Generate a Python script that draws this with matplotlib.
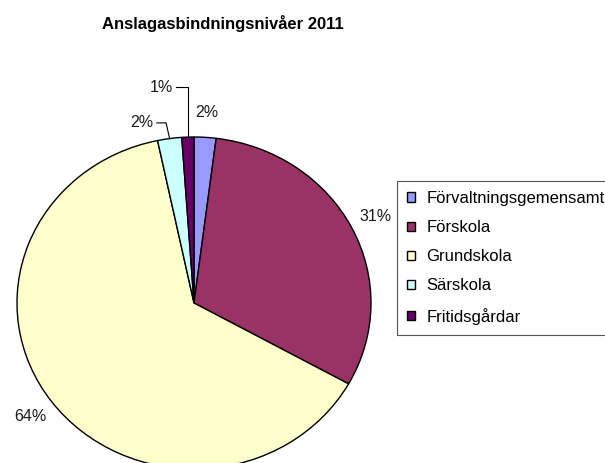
import matplotlib.pyplot as plt
import numpy as np

plt.rcParams['font.family'] = ['Liberation Sans', 'DejaVu Sans']

# Andel per verksamhet (%)
categories = ["Förvaltningsgemensamt", "Förskola", "Grundskola", "Särskola", "Fritidsgårdar"]
shares = [2.0, 31.1, 63.6, 2.2, 1.1]
colors = ["#9999FF", "#993366", "#FFFFCC", "#CCFFFF", "#660066"]

W, H = 605, 463
fig = plt.figure(figsize=(W / 100, H / 100), dpi=100)

# pajen är lite ihoptryckt på höjden i originalet
cx, cy, rx, ry = 194, 303, 177, 166
ax = fig.add_axes([(cx - rx) / W, (H - cy - ry) / H, 2 * rx / W, 2 * ry / H])

wedges, texts, autotexts = ax.pie(
    shares, colors=colors, startangle=90, counterclock=False,
    autopct='%.0f%%', pctdistance=1.15,
    wedgeprops=dict(edgecolor='black', linewidth=1.0),
    textprops=dict(fontsize=11.5, color='#1a1a1a'))
ax.set_aspect('auto')
ax.set_xlim(-1, 1)
ax.set_ylim(-1, 1)
ax.axis('off')

# små andelar får etiketter med hänvisningslinjer
leader = {3: (-0.21, 1.085, -0.02), 4: (-0.10, 1.30, 0.0)}
for i, (lx, ly, dx) in leader.items():
    w = wedges[i]
    mid = np.deg2rad((w.theta1 + w.theta2) / 2)
    ex, ey = np.cos(mid), np.sin(mid)
    t = autotexts[i]
    t.set_position((lx - 0.02, ly))
    t.set_ha('right')
    ax.plot([lx, ex + dx, ex], [ly, ly, ey], color='black', lw=0.8, clip_on=False)

fig.text(223 / W, 1 - 23 / H, "Anslagasbindningsnivåer 2011",
         ha='center', va='center', fontsize=12, fontweight='bold')

leg = fig.legend(wedges, categories, loc='upper left',
                 bbox_to_anchor=(397 / W, 1 - 181 / H), borderaxespad=0,
                 fontsize=12, handlelength=0.5, handleheight=0.5,
                 handletextpad=0.65, labelspacing=0.85, borderpad=0.6,
                 fancybox=False, edgecolor='#555555', framealpha=1)
leg.get_frame().set_linewidth(0.8)

plt.savefig("out.png", dpi=100)
